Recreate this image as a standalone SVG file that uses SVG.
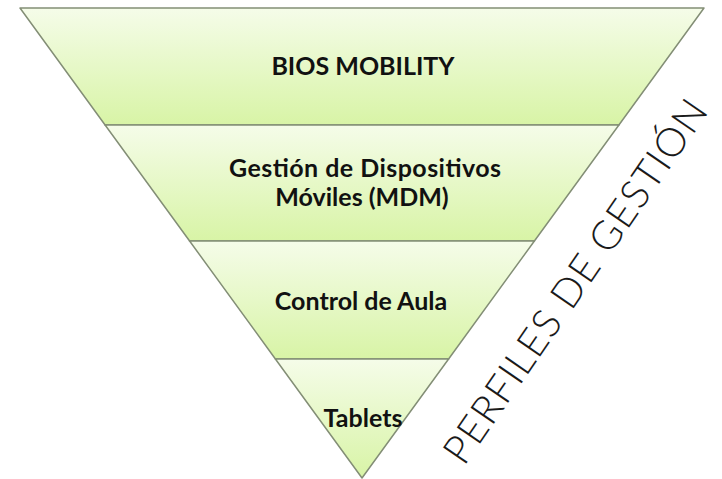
<svg xmlns="http://www.w3.org/2000/svg" width="722" height="479" viewBox="0 0 722 479">
  <defs>
    <linearGradient id="band" x1="0" y1="0" x2="0" y2="1">
      <stop offset="0" stop-color="#f5fce9"/>
      <stop offset="1" stop-color="#d8f4a6"/>
    </linearGradient>
  </defs>
  <style>
    .band { fill: url(#band); stroke: #838e76; stroke-width: 1.5; stroke-linejoin: round; }
    .lbl { font-family: Lato, "Liberation Sans", sans-serif; font-weight: bold; font-size: 25px; fill: #111; text-anchor: middle; }
    .side { font-family: Lato, "Open Sans", "Liberation Sans", sans-serif; font-weight: 300; font-size: 40px; fill: #1a1a1a; }
  </style>
  <rect width="722" height="479" fill="#ffffff"/>
  <g id="bios-mobility">
    <polygon class="band" points="20,8 704,8 618.9,125 105.1,125"/>
    <text class="lbl" x="363" y="75">BIOS MOBILITY</text>
  </g>
  <g id="gestion-dispositivos">
    <polygon class="band" points="105.1,125 618.9,125 534.4,241 189.6,241"/>
    <text class="lbl" x="365" y="177" textLength="272">Gestión de Dispositivos</text>
    <text class="lbl" x="362" y="206">Móviles (MDM)</text>
  </g>
  <g id="control-aula">
    <polygon class="band" points="189.6,241 534.4,241 448.6,359 275.4,359"/>
    <text class="lbl" x="361" y="310">Control de Aula</text>
  </g>
  <g id="tablets">
    <polygon class="band" points="275.4,359 448.6,359 362,478"/>
    <text class="lbl" x="363" y="427">Tablets</text>
  </g>
  <g id="perfiles-gestion">
    <text class="side" transform="translate(464,467) rotate(-55.4)" x="0" y="0" textLength="432" lengthAdjust="spacing">PERFILES DE GESTIÓN</text>
  </g>
</svg>
